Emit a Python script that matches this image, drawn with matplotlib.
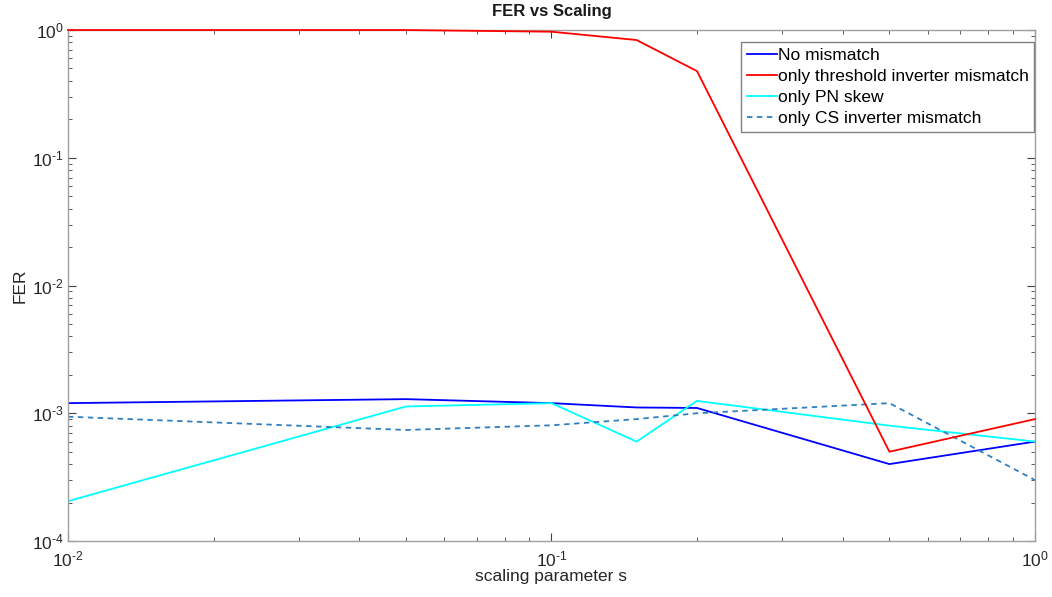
import matplotlib.pyplot as plt
from matplotlib.ticker import LogLocator, NullFormatter, FuncFormatter
import numpy as np

plt.rcParams['font.family'] = ['Liberation Sans', 'DejaVu Sans']
plt.rcParams['mathtext.fontset'] = 'custom'
plt.rcParams['mathtext.rm'] = 'Liberation Sans'

# scaling parameter values
scaling = [0.01, 0.05, 0.1, 0.15, 0.2, 0.5, 1.0]

# FER per configuration
fer_no_mismatch = [1.2e-3, 1.29e-3, 1.2e-3, 1.11e-3, 1.1e-3, 4.0e-4, 6.0e-4]
fer_threshold = [1.0, 1.0, 0.97, 0.835, 0.477, 5.0e-4, 9.0e-4]
fer_pn_skew = [2.05e-4, 1.13e-3, 1.2e-3, 6.0e-4, 1.25e-3, 8.0e-4, 6.0e-4]
fer_cs = [9.4e-4, 7.4e-4, 8.05e-4, 9.0e-4, 1.0e-3, 1.2e-3, 3.0e-4]

axis_gray = '#404040'


def pow10_label(v, pos):
    # MATLAB style labels use a plain hyphen in the exponent
    e = int(round(np.log10(v)))
    if e < 0:
        return r'$\mathrm{10^{\text{-}%d}}$' % (-e)
    return r'$\mathrm{10^{%d}}$' % e


fig = plt.figure(figsize=(10.52, 5.97), dpi=100)
ax = fig.add_axes([0.0646, 0.0938, 0.9192, 0.8559])

ax.plot(scaling, fer_no_mismatch, color='#0000ff', linewidth=1.3, label='No mismatch')
ax.plot(scaling, fer_threshold, color='#ff0000', linewidth=1.3, clip_on=False, zorder=3,
        label='only threshold inverter mismatch')
ax.plot(scaling, fer_pn_skew, color='#00ffff', linewidth=1.3, label='only PN skew')
ax.plot(scaling, fer_cs, color='#2f7fc1', linewidth=1.3, linestyle=(0, (3, 2.5)),
        label='only CS inverter mismatch')

ax.set_xscale('log')
ax.set_yscale('log')
ax.set_xlim(0.01, 1)
ax.set_ylim(1e-4, 1)

ax.xaxis.set_major_formatter(FuncFormatter(pow10_label))
ax.yaxis.set_major_formatter(FuncFormatter(pow10_label))
ax.xaxis.set_minor_locator(LogLocator(base=10, subs=range(2, 10)))
ax.yaxis.set_minor_locator(LogLocator(base=10, subs=range(2, 10)))
ax.xaxis.set_minor_formatter(NullFormatter())
ax.yaxis.set_minor_formatter(NullFormatter())

ax.tick_params(which='both', direction='in', top=True, right=True, colors=axis_gray,
               labelcolor='#262626', labelsize=12.5)
ax.tick_params(which='major', length=6)
ax.tick_params(which='minor', length=3)
ax.tick_params(axis='x', pad=6)
ax.tick_params(axis='y', pad=3)
for spine in ax.spines.values():
    spine.set_color('#a0a0a0')
    spine.set_linewidth(1.0)

ax.set_title('FER vs Scaling', fontsize=12, fontweight='bold', color='#1a1a1a', pad=10)
ax.set_xlabel('scaling parameter s', fontsize=12.5, color='#262626', labelpad=0)
ax.set_ylabel('FER', fontsize=12.5, color='#262626', labelpad=3)

leg = ax.legend(loc='upper right', fontsize=12.5, handlelength=1.7, handletextpad=0.05,
                labelspacing=0.33, borderpad=0.35, borderaxespad=0, fancybox=False,
                framealpha=1, bbox_to_anchor=(0.9995, 0.977))
leg.get_frame().set_edgecolor('#808080')
leg.get_frame().set_linewidth(1.0)

fig.savefig('out.png', dpi=100)
